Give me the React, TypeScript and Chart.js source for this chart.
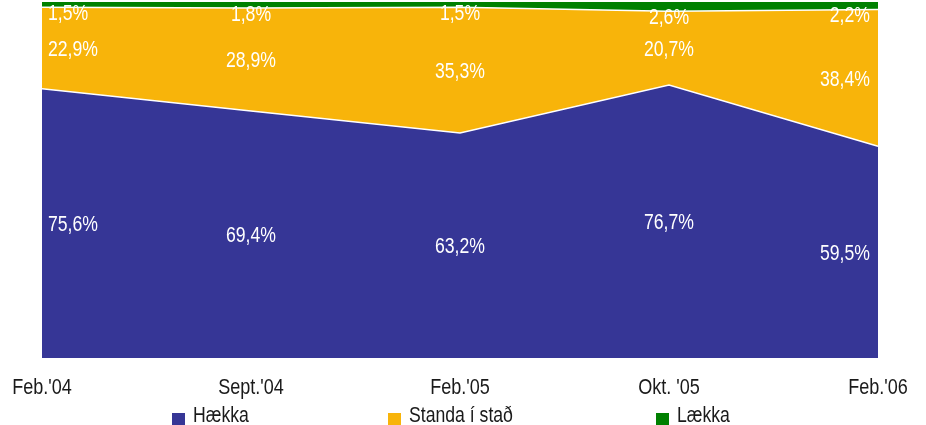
import React, { useEffect, useRef } from "react";
import { Chart, registerables } from "chart.js";

Chart.register(...registerables);

const categories = ["Feb.'04", "Sept.'04", "Feb.'05", "Okt. '05", "Feb.'06"];
const haekka = [75.6, 69.4, 63.2, 76.7, 59.5];
const standa = [22.9, 28.9, 35.3, 20.7, 38.4];
const laekka = [1.5, 1.8, 1.5, 2.6, 2.2];
const seriesNames = ["Hækka", "Standa í stað", "Lækka"];
const seriesColors = ["#363696", "#F8B40A", "#008000"];

const FONT = "'Liberation Sans', Arial, sans-serif";
const NARROW = 0.82;

const fmt = (v: number) => v.toFixed(1).replace(".", ",") + "%";

function narrowText(ctx: CanvasRenderingContext2D, text: string, x: number, y: number, align: CanvasTextAlign) {
  ctx.save();
  ctx.translate(x, y);
  ctx.scale(NARROW, 1);
  ctx.textAlign = align;
  ctx.fillText(text, 0, 0);
  ctx.restore();
}

const labelPlugin = {
  id: "areaLabels",
  afterDatasetsDraw(chart: any) {
    const ctx = chart.ctx;
    const y = chart.scales.y;
    const dsets = chart.data.datasets;
    const n = chart.data.labels.length;
    ctx.save();
    ctx.fillStyle = "#ffffff";
    ctx.font = `21.5px ${FONT}`;
    ctx.textBaseline = "middle";
    dsets.forEach((ds: any, di: number) => {
      const meta = chart.getDatasetMeta(di);
      meta.data.forEach((pt: any, i: number) => {
        let base = 0;
        for (let k = 0; k < di; k++) base += dsets[k].data[i];
        const top = base + ds.data[i];
        let cy: number;
        if (di === dsets.length - 1) {
          cy = y.getPixelForValue(base) + 7;
        } else {
          cy = (y.getPixelForValue(base) + y.getPixelForValue(top)) / 2 + 2;
        }
        let x = pt.x;
        let align: CanvasTextAlign = "center";
        if (i === 0) {
          align = "left";
          x += 6;
        } else if (i === n - 1) {
          align = "right";
          x -= 8;
        }
        narrowText(ctx, fmt(ds.data[i]), x, cy, align);
      });
    });
    ctx.restore();
  },
};

const legendX = [172, 388, 656];

const legendPlugin = {
  id: "customLegend",
  afterDraw(chart: any) {
    const ctx = chart.ctx;
    ctx.save();
    // x-axis category labels (narrow face)
    const xs = chart.scales.x;
    ctx.font = `22px ${FONT}`;
    ctx.textBaseline = "middle";
    ctx.fillStyle = "#1a1a1a";
    chart.data.labels.forEach((lab: string, i: number) => {
      narrowText(ctx, lab, xs.getPixelForValue(i), 388, "center");
    });
    // legend
    ctx.font = `21.5px ${FONT}`;
    chart.data.datasets.forEach((ds: any, i: number) => {
      const bx = legendX[i];
      ctx.fillStyle = ds.backgroundColor;
      ctx.fillRect(bx, 413, 13, 13);
      ctx.fillStyle = "#1a1a1a";
      narrowText(ctx, ds.label, bx + 21, 416, "left");
    });
    ctx.restore();
  },
};

export default function App() {
  const ref = useRef<HTMLCanvasElement | null>(null);
  useEffect(() => {
    if (!ref.current) return;
    const chart = new Chart(ref.current, {
      type: "line",
      data: {
        labels: categories,
        datasets: [
          {
            label: seriesNames[0],
            data: haekka,
            backgroundColor: seriesColors[0],
            borderColor: "#ffffff",
            borderWidth: 1.5,
            fill: "origin",
            pointRadius: 0,
            tension: 0,
          },
          {
            label: seriesNames[1],
            data: standa,
            backgroundColor: seriesColors[1],
            borderColor: "#ffffff",
            borderWidth: 1.5,
            fill: "-1",
            pointRadius: 0,
            tension: 0,
          },
          {
            label: seriesNames[2],
            data: laekka,
            backgroundColor: seriesColors[2],
            borderColor: seriesColors[2],
            borderWidth: 0,
            fill: "-1",
            pointRadius: 0,
            tension: 0,
          },
        ],
      },
      options: {
        responsive: false,
        animation: false,
        devicePixelRatio: 1,
        layout: { padding: { left: 42, right: 48, top: 2, bottom: 67 } },
        plugins: {
          legend: { display: false },
          tooltip: { enabled: false },
          title: { display: false },
        },
        scales: {
          x: {
            grid: { display: false, drawTicks: false },
            border: { display: false },
            ticks: { display: false },
          },
          y: {
            display: false,
            stacked: true,
            min: 0,
            max: 100,
          },
        },
      },
      plugins: [labelPlugin, legendPlugin],
    });
    return () => chart.destroy();
  }, []);
  return (
    <div style={{ position: "absolute", left: 0, top: 0, width: 926, height: 425, background: "#fff" }}>
      <canvas ref={ref} width={926} height={425} />
    </div>
  );
}
